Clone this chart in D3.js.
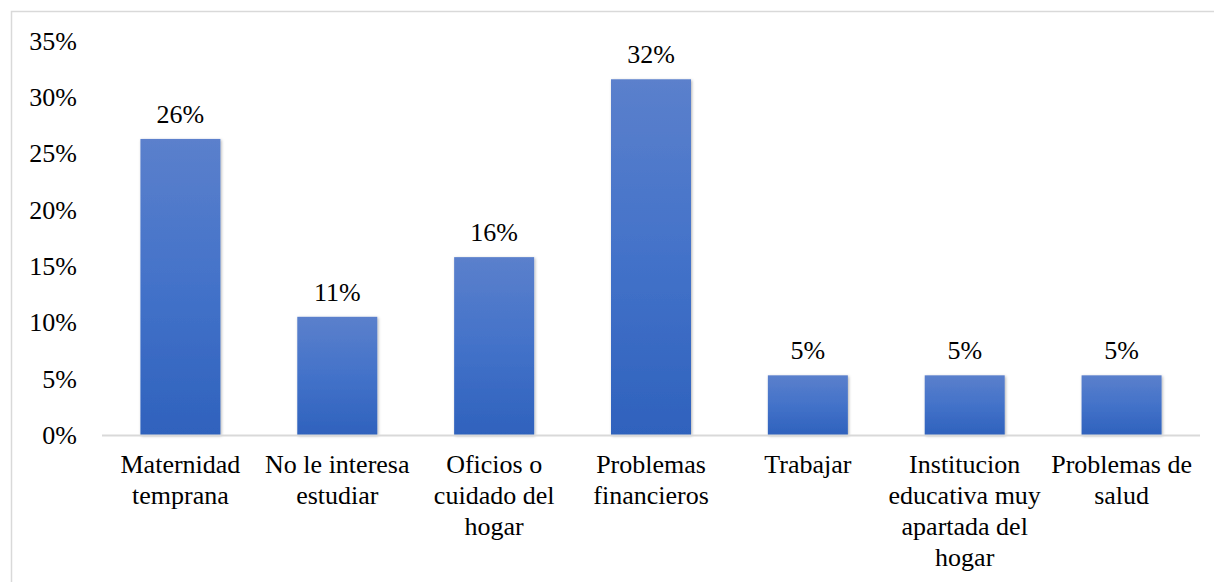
<!DOCTYPE html>
<html>
<head>
<meta charset="utf-8">
<script src="https://cdn.jsdelivr.net/npm/d3@7"></script>
<style>
  body { margin: 0; background: #fff; }
  svg { display: block; }
  svg text { font-family: "Liberation Serif", "Times New Roman", serif; }
</style>
</head>
<body>
<div id="chart"></div>
<script>
// Data
const categories = [
  "Maternidad temprana",
  "No le interesa estudiar",
  "Oficios o cuidado del hogar",
  "Problemas financieros",
  "Trabajar",
  "Institucion educativa muy apartada del hogar",
  "Problemas de salud"
];
// label lines as shown under each bar
const labelLines = [
  ["Maternidad", "temprana"],
  ["No le interesa", "estudiar"],
  ["Oficios o", "cuidado del", "hogar"],
  ["Problemas", "financieros"],
  ["Trabajar"],
  ["Institucion", "educativa muy", "apartada del", "hogar"],
  ["Problemas de", "salud"]
];
const values = [0.263, 0.105, 0.158, 0.316, 0.053, 0.053, 0.053];
const yTicks = [0, 0.05, 0.10, 0.15, 0.20, 0.25, 0.30, 0.35];

const W = 1214, H = 582;
const serif = "Liberation Serif";
const fs = 26;

const svg = d3.select("#chart").append("svg")
  .attr("width", W)
  .attr("height", H)
  .attr("font-family", serif);

// chart border
svg.append("rect")
  .attr("x", 11.5).attr("y", 11.5)
  .attr("width", W).attr("height", H)
  .attr("fill", "none")
  .attr("stroke", "#d9d9d9")
  .attr("stroke-width", 1.5);

const x = d3.scaleBand()
  .domain(categories)
  .range([102, 1200])
  .paddingInner(0.49)
  .paddingOuter(0.245);

const y = d3.scaleLinear()
  .domain([0, 0.35])
  .range([435, 41]);

// gradient + shadow
const defs = svg.append("defs");
const grad = defs.append("linearGradient")
  .attr("id", "barGrad")
  .attr("x1", 0).attr("y1", 0).attr("x2", 0).attr("y2", 1);
grad.append("stop").attr("offset", "0%").attr("stop-color", "#5b80cc");
grad.append("stop").attr("offset", "50%").attr("stop-color", "#4372c9");
grad.append("stop").attr("offset", "100%").attr("stop-color", "#2f62bd");

const shadow = defs.append("filter")
  .attr("id", "shadow")
  .attr("x", "-20%").attr("y", "-20%")
  .attr("width", "140%").attr("height", "140%");
shadow.append("feDropShadow")
  .attr("dx", 1).attr("dy", 1)
  .attr("stdDeviation", 1.5)
  .attr("flood-color", "#000")
  .attr("flood-opacity", 0.3);

// y axis labels (no line)
const yAxis = svg.append("g")
  .attr("transform", "translate(77,0)")
  .call(d3.axisLeft(y).tickValues(yTicks).tickSize(0).tickPadding(0)
    .tickFormat(d3.format(".0%")));
yAxis.attr("font-family", serif).attr("font-size", fs);
yAxis.select(".domain").remove();
yAxis.selectAll("text")
  .attr("font-family", serif)
  .attr("font-size", fs)
  .attr("fill", "#000");

// bars
svg.selectAll(".bar")
  .data(values)
  .enter().append("rect")
  .attr("class", "bar")
  .attr("x", (d, i) => x(categories[i]))
  .attr("y", d => y(d))
  .attr("width", x.bandwidth())
  .attr("height", d => y(0) - y(d))
  .attr("fill", "url(#barGrad)")
  .attr("filter", "url(#shadow)");

// baseline
svg.append("line")
  .attr("x1", 102).attr("x2", 1200)
  .attr("y1", y(0) + 0.5).attr("y2", y(0) + 0.5)
  .attr("stroke", "#d9d9d9")
  .attr("stroke-width", 2);

// value labels
svg.selectAll(".val")
  .data(values)
  .enter().append("text")
  .attr("class", "val")
  .attr("x", (d, i) => x(categories[i]) + x.bandwidth() / 2)
  .attr("y", d => y(d) - 16)
  .attr("text-anchor", "middle")
  .attr("font-family", serif)
  .attr("font-size", fs)
  .attr("fill", "#000")
  .text(d => d3.format(".0%")(d));

// category labels
const cat = svg.selectAll(".cat")
  .data(labelLines)
  .enter().append("text")
  .attr("class", "cat")
  .attr("text-anchor", "middle")
  .attr("font-family", serif)
  .attr("font-size", fs)
  .attr("fill", "#000")
  .attr("transform", (d, i) => `translate(${x(categories[i]) + x.bandwidth() / 2},473)`);
cat.selectAll("tspan")
  .data(d => d)
  .enter().append("tspan")
  .attr("x", 0)
  .attr("y", (d, i) => i * 31)
  .text(d => d);
</script>
</body>
</html>
